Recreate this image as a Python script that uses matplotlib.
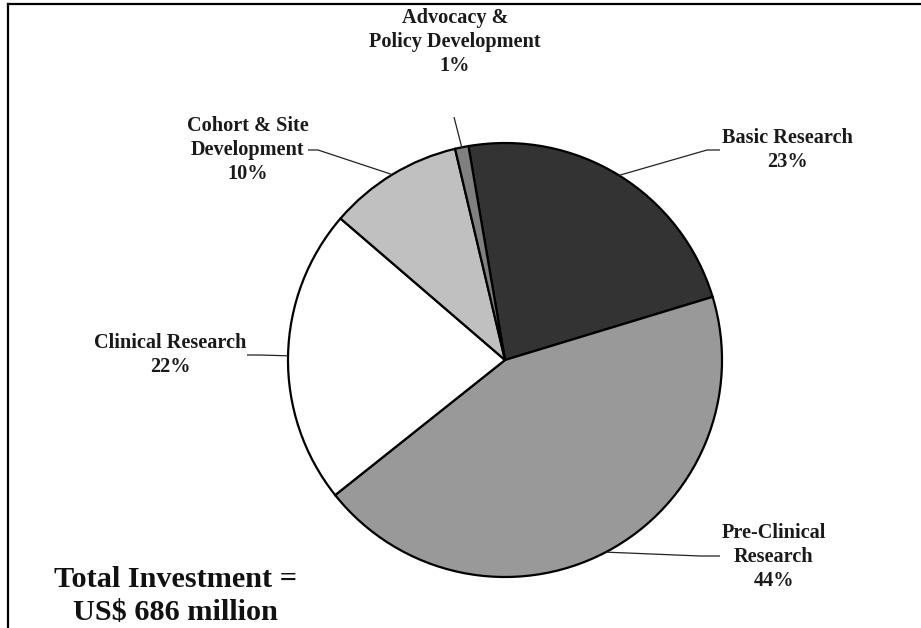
import numpy as np
import matplotlib
matplotlib.use("Agg")
import matplotlib.pyplot as plt

# ---------------- data ----------------
categories = ["Basic Research", "Pre-Clinical\nResearch", "Clinical Research",
              "Cohort & Site\nDevelopment", "Advocacy &\nPolicy Development"]
shares = [23, 44, 22, 10, 1]            # percent
colors = ["#333333", "#999999", "#ffffff", "#c0c0c0", "#808080"]
total_text = "Total Investment =\nUS$ 686 million"

# ---------------- layout (pixel coords, y from top) ----------------
W, H = 921, 628
cx, cy, R = 505, 360, 217
start_angle = 99.7

# label centre, elbow, end of leader line (near text)
label_pos = [(787, 150), (774, 557), (170, 355), (248, 150), (455, 42)]
elbows = [(707, 150), (700, 556), (260, 355), (318, 150), (454, 117)]
ends = [(720, 150), (720, 556), (247, 355), (308, 150), (454, 117)]

plt.rcParams['font.family'] = ['Liberation Serif', 'DejaVu Serif']

fig = plt.figure(figsize=(W / 100, H / 100), dpi=100)
ax = fig.add_axes([0, 0, 1, 1])
ax.set_xlim(0, W)
ax.set_ylim(0, H)
ax.set_aspect("equal")
ax.axis("off")


def Y(y):
    return H - y


wedges, _ = ax.pie(shares, colors=colors, startangle=start_angle, counterclock=False,
                   center=(cx, Y(cy)), radius=R,
                   wedgeprops=dict(edgecolor="black", linewidth=1.6))
ax.set_xlim(0, W)
ax.set_ylim(0, H)

for w, lab, pct, (tx, ty), (ex, ey), (fx, fy) in zip(wedges, categories, shares,
                                                    label_pos, elbows, ends):
    mid = np.deg2rad((w.theta1 + w.theta2) / 2)
    px = cx + R * np.cos(mid)
    py = Y(cy) + R * np.sin(mid)
    ax.plot([px, ex, fx], [py, Y(ey), Y(fy)], color="#222222", lw=0.9,
            solid_capstyle="butt", zorder=5)
    ax.text(tx, Y(ty), f"{lab}\n{pct}%", ha="center", va="center",
            fontsize=14.6, fontweight="bold", color="#1a1a1a", linespacing=1.27)

ax.text(175, Y(596), total_text, ha="center", va="center", fontsize=21.8,
        fontweight="bold", color="#111111", linespacing=1.3)

# frame lines (left and top)
ax.plot([8, 8], [Y(4), 0], color="black", lw=1.6, solid_capstyle="projecting")
ax.plot([8, W], [Y(4), Y(4)], color="black", lw=1.6, solid_capstyle="projecting")

fig.savefig("out.png", dpi=100)
